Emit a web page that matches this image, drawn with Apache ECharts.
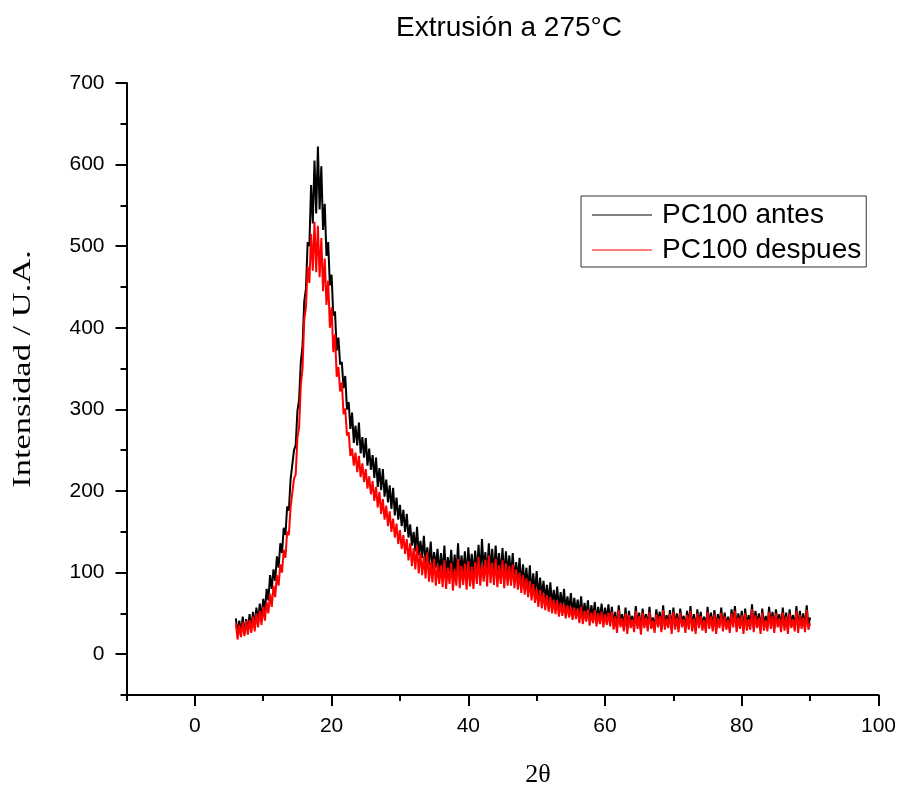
<!DOCTYPE html>
<html>
<head>
<meta charset="utf-8">
<script src="https://cdn.jsdelivr.net/npm/echarts@6/dist/echarts.min.js"></script>
<style>
html,body{margin:0;padding:0;background:#fff;}
#chart{width:899px;height:787px;}
</style>
</head>
<body>
<div id="chart"></div>
<script>
// 2θ sampling of the read values
const X_START = 6;
const X_STEP = 0.25;

// PC100 antes (black), 6 .. 90 step 0.25
const antes = [
  44,24,41,26,46,25,43,29,49,31,52,34,57,40,62,43,68,52,80,66,
  97,80,104,90,120,106,136,124,155,146,181,176,214,212,250,256,298,312,358,378,
  432,448,505,500,575,528,605,540,622,545,598,520,552,488,505,452,465,415,420,372,
  388,355,358,326,341,300,309,276,296,259,280,256,284,246,266,241,265,231,252,226,
  244,216,241,205,228,201,227,193,214,186,207,178,204,170,192,165,183,157,177,150,
  172,143,159,133,150,126,156,121,139,118,145,111,131,109,138,103,125,106,129,98,
  124,98,133,95,119,101,128,92,122,97,136,94,121,99,126,91,131,100,123,96,
  127,99,134,96,141,103,125,97,136,100,129,95,133,101,124,96,130,94,126,98,
  121,95,124,89,113,91,118,82,110,84,106,77,109,74,99,75,102,68,94,70,
  90,65,85,63,88,59,79,60,83,55,76,57,80,52,71,53,75,49,69,51,
  67,46,71,44,63,47,66,41,60,45,64,40,58,43,62,38,57,42,61,39,
  58,36,52,31,60,40,49,33,57,30,53,38,47,32,59,35,51,29,56,37,
  49,33,58,36,45,30,55,39,52,31,60,34,48,37,54,30,57,35,50,32,
  56,38,47,31,53,35,59,33,49,29,55,37,52,34,46,31,58,36,51,33,
  54,30,49,37,57,33,51,35,46,31,55,38,59,32,50,36,53,30,56,34,
  48,35,61,32,53,37,50,30,56,34,47,33,58,36,52,31,55,38,49,32,
  57,34,51,30,55,37,48,33,59,31,53,36,50,32,60,35,45
];

// PC100 despues (red), 6 .. 90 step 0.25
const despues = [
  38,18,36,21,39,22,41,24,42,26,46,28,50,33,53,36,58,41,64,50,
  74,58,84,70,97,84,110,100,128,118,150,146,180,180,215,220,265,278,330,350,
  410,425,475,455,515,470,530,468,525,462,510,445,485,428,458,400,425,370,392,340,
  352,322,333,294,301,268,272,243,252,231,247,223,243,217,234,211,227,203,218,196,
  212,188,205,180,199,172,190,165,182,157,175,150,166,143,160,135,152,129,146,123,
  141,115,136,108,130,104,133,99,124,97,120,93,125,89,113,88,117,84,110,86,
  109,82,115,80,106,86,112,78,104,84,117,81,108,85,111,79,114,83,107,80,
  113,86,119,84,110,89,116,83,121,87,112,85,117,82,109,86,115,81,111,84,
  108,84,110,81,104,79,100,75,97,73,93,70,90,66,86,63,80,58,79,56,
  75,54,72,52,70,50,67,49,66,46,63,47,61,44,60,45,58,42,57,43,
  56,38,58,37,53,40,55,35,51,38,54,34,50,37,52,33,49,36,51,34,
  52,30,46,26,54,33,44,28,50,25,48,32,43,27,53,31,47,24,51,32,
  45,28,52,31,41,26,49,33,47,27,54,30,44,32,49,25,52,30,45,27,
  51,33,43,26,48,30,53,28,44,25,50,32,47,29,42,26,52,31,46,28,
  49,25,44,32,51,28,46,30,42,26,50,33,53,27,45,31,48,25,50,29,
  43,30,55,27,48,32,45,25,51,29,42,28,52,31,47,26,50,33,44,27,
  51,29,46,25,50,32,43,28,53,26,48,31,45,27,54,30,38
];

const seriesNames = ['PC100 antes', 'PC100 despues'];
const xMajorTicks = [0, 20, 40, 60, 80, 100];
const yMajorTicks = [0, 100, 200, 300, 400, 500, 600, 700];

const toPairs = ys => ys.map((y, i) => [X_START + i * X_STEP, y]);

const SANS = '"Liberation Sans", Arial, sans-serif';
const SERIF = '"Liberation Serif", "Times New Roman", serif';

const chart = echarts.init(document.getElementById('chart'), null, {renderer: 'canvas'});

const axisLineStyle = {color: '#000', width: 2};

chart.setOption({
  animation: false,
  backgroundColor: '#fff',
  title: {
    text: 'Extrusión a 275°C',
    left: 396,
    top: 14,
    padding: 0,
    textStyle: {fontFamily: SANS, fontSize: 28, fontWeight: 'normal', color: '#000'}
  },
  legend: {
    orient: 'vertical',
    left: 581,
    top: 196,
    data: seriesNames,
    icon: 'rect',
    itemWidth: 60,
    itemHeight: 1.2,
    itemGap: 7,
    padding: [5, 5, 3, 11],
    borderColor: '#333',
    borderWidth: 1,
    textStyle: {fontFamily: SANS, fontSize: 28, color: '#000', padding: [0, 0, 0, 5]}
  },
  grid: {left: 126.5, right: 20, top: 83, bottom: 92, containLabel: false},
  xAxis: [
    {
      type: 'value', min: -10, max: 100, interval: 10, position: 'bottom',
      axisLine: {show: true, onZero: false, lineStyle: axisLineStyle},
      axisTick: {show: true, inside: false, length: 6, lineStyle: {color: '#000', width: 2}},
      axisLabel: {
        margin: 21, fontFamily: SANS, fontSize: 21, color: '#000',
        formatter: v => (xMajorTicks.indexOf(v) >= 0 ? String(v) : '')
      },
      splitLine: {show: false}
    },
    {
      type: 'value', min: -10, max: 100, position: 'bottom',
      axisLine: {show: false, onZero: false},
      axisTick: {show: true, inside: false, length: 11, customValues: xMajorTicks, lineStyle: {color: '#000', width: 2}},
      axisLabel: {show: false},
      splitLine: {show: false}
    }
  ],
  yAxis: [
    {
      type: 'value', min: -50, max: 700, interval: 50, position: 'left',
      axisLine: {show: true, onZero: false, lineStyle: axisLineStyle},
      axisTick: {show: true, inside: false, length: 6, lineStyle: {color: '#000', width: 2}},
      axisLabel: {
        margin: 22, fontFamily: SANS, fontSize: 21, color: '#000',
        formatter: v => (yMajorTicks.indexOf(v) >= 0 ? String(v) : '')
      },
      splitLine: {show: false}
    },
    {
      type: 'value', min: -50, max: 700, position: 'left',
      axisLine: {show: false, onZero: false},
      axisTick: {show: true, inside: false, length: 11, customValues: yMajorTicks, lineStyle: {color: '#000', width: 2}},
      axisLabel: {show: false},
      splitLine: {show: false}
    }
  ],
  graphic: [
    {
      type: 'text',
      x: 23, y: 369,
      rotation: Math.PI / 2,
      scaleX: 1.38,
      style: {text: 'Intensidad / U.A.', font: '25px ' + SERIF, fill: '#000', textAlign: 'center', textVerticalAlign: 'middle'}
    },
    {
      type: 'text',
      x: 538, y: 775,
      style: {text: '2θ', font: '26px ' + SERIF, fill: '#000', textAlign: 'center', textVerticalAlign: 'middle'}
    }
  ],
  series: [
    {
      name: seriesNames[0], type: 'line', xAxisIndex: 0, yAxisIndex: 0,
      data: toPairs(antes), showSymbol: false, symbol: 'none',
      lineStyle: {color: '#000', width: 2}, itemStyle: {color: '#000'}
    },
    {
      name: seriesNames[1], type: 'line', xAxisIndex: 0, yAxisIndex: 0,
      data: toPairs(despues), showSymbol: false, symbol: 'none',
      lineStyle: {color: '#ff0000', width: 2}, itemStyle: {color: '#ff0000'}
    }
  ]
});
</script>
</body>
</html>
